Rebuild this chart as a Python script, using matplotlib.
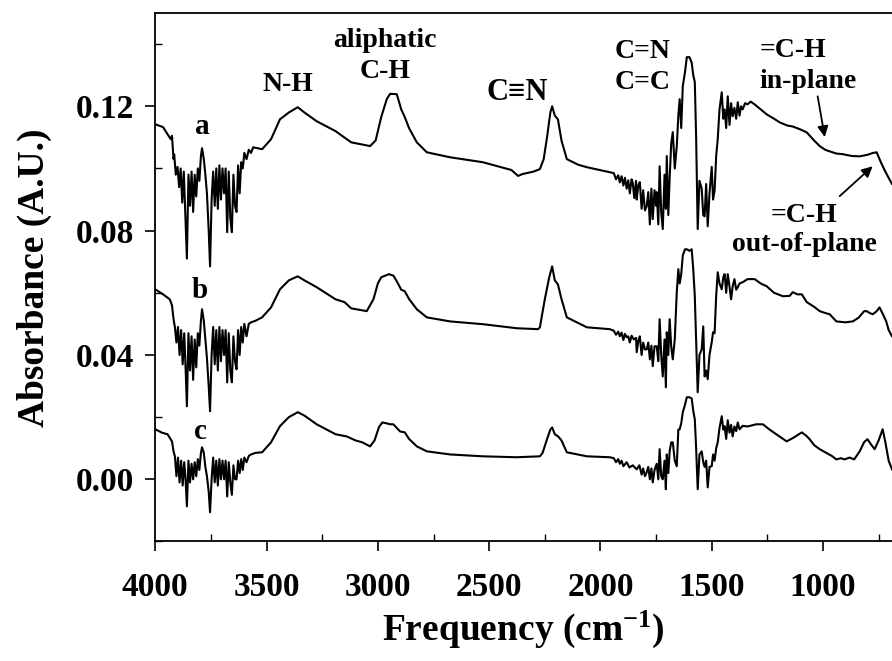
import matplotlib
matplotlib.use("Agg")
import matplotlib.pyplot as plt
from matplotlib.ticker import MultipleLocator

plt.rcParams['font.family'] = ['Liberation Serif', 'DejaVu Serif']
plt.rcParams['font.weight'] = 'bold'
plt.rcParams['mathtext.fontset'] = 'custom'
plt.rcParams['mathtext.rm'] = 'Liberation Serif:bold'
plt.rcParams['mathtext.bf'] = 'Liberation Serif:bold'
plt.rcParams['mathtext.default'] = 'rm'

# ---------------- data (wavenumber cm^-1, absorbance) ----------------
spectrum_a = [
    (4000, .1142), (3965, .1133), (3945, .1110), (3930, .1094), (3925, .1105), (3918, .1030),
    (3915, .1045), (3908, .0980), (3900, .1005), (3893, .0940), (3886, .1000), (3879, .0890),
    (3872, .0990), (3865, .0850), (3858, .0710), (3851, .0980), (3844, .0880), (3837, .0990),
    (3830, .0860), (3823, .0980), (3816, .0910), (3809, .1000), (3802, .0960), (3795, .1040),
    (3790, .1065), (3782, .1030), (3775, .0980), (3768, .0920), (3760, .0800), (3754, .0685),
    (3747, .0900), (3740, .0990), (3733, .0880), (3726, .1000), (3719, .0870), (3712, .1010),
    (3705, .0900), (3698, .1000), (3691, .0920), (3684, .1000), (3677, .0795), (3670, .0990),
    (3663, .0840), (3656, .0795), (3649, .0980), (3642, .0880), (3635, .0860), (3628, .1010),
    (3621, .0920), (3614, .1020), (3607, .1000), (3600, .1050), (3590, .1030), (3580, .1060),
    (3570, .1050), (3560, .1068), (3520, .1062), (3480, .1094), (3440, .1158), (3400, .1180),
    (3360, .1197), (3330, .1180), (3275, .1152), (3190, .1120), (3120, .1084), (3035, .1072),
    (3010, .1090), (2985, .1165), (2960, .1223), (2945, .1240), (2915, .1239), (2895, .1190),
    (2879, .1165), (2860, .1130), (2825, .1084), (2780, .1052), (2676, .1036), (2528, .1020),
    (2400, .0995), (2370, .0976), (2350, .0982), (2300, .0990), (2272, .0998), (2255, .1030),
    (2240, .1100), (2225, .1180), (2217, .1200), (2205, .1170), (2191, .1158), (2175, .1090),
    (2151, .1030), (2100, .1012), (2061, .1004), (1958, .0988),
    (1940, .0985), (1930, .0965), (1920, .0978), (1913, .0955), (1905, .0975), (1897, .0945),
    (1890, .0970), (1882, .0935), (1875, .0962), (1868, .0920), (1860, .0965), (1855, .0955),
    (1848, .0905), (1840, .0960), (1837, .0900), (1830, .0945), (1823, .0956), (1815, .0870),
    (1808, .0930), (1800, .0865), (1792, .0879), (1785, .0924), (1778, .0820), (1771, .0935),
    (1765, .0837), (1757, .0930), (1750, .0880), (1747, .0924), (1740, .0820), (1734, .1007),
    (1727, .0860), (1720, .0805), (1712, .0980), (1706, .0870), (1702, .1040), (1695, .0850),
    (1689, .0970), (1682, .1080), (1675, .1117), (1666, .1000), (1657, .1072), (1650, .1170),
    (1644, .1223), (1637, .1130), (1630, .1265), (1620, .1310), (1612, .1358), (1600, .1358),
    (1590, .1340), (1583, .1300), (1576, .1278), (1570, .1100), (1563, .0805), (1555, .0960),
    (1545, .0935), (1538, .0850), (1532, .0846), (1525, .0950), (1518, .0814), (1510, .0920),
    (1500, .1005), (1494, .0900), (1487, .0930), (1480, .1040), (1473, .1094), (1465, .1190),
    (1455, .1245), (1448, .1160), (1442, .1190), (1435, .1130), (1428, .1232), (1420, .1140),
    (1413, .1210), (1406, .1168), (1398, .1195), (1390, .1160), (1383, .1213), (1375, .1170),
    (1368, .1200), (1361, .1190), (1350, .1210), (1339, .1206), (1325, .1215), (1307, .1206),
    (1280, .1190), (1253, .1174), (1220, .1160), (1194, .1148), (1160, .1138), (1136, .1135),
    (1100, .1125), (1073, .1116), (1040, .1090), (1015, .1072), (990, .1060), (970, .1055),
    (940, .1048), (912, .1046), (870, .1040), (835, .1039), (800, .1044), (775, .1050),
    (759, .1052), (740, .1020), (720, .0990), (709, .0975), (690, .0950),
]

spectrum_b = [
    (4000, .0611), (3965, .0595), (3935, .0579), (3925, .0560), (3918, .0515),
    (3912, .0490), (3905, .0440), (3898, .0490), (3891, .0400), (3884, .0480), (3877, .0370),
    (3870, .0470), (3864, .0360), (3858, .0235), (3851, .0470), (3844, .0350), (3837, .0460),
    (3830, .0320), (3823, .0450), (3816, .0360), (3809, .0470), (3802, .0430), (3795, .0510),
    (3790, .0547), (3782, .0510), (3775, .0450), (3768, .0390), (3760, .0300), (3754, .0219),
    (3747, .0400), (3740, .0490), (3733, .0370), (3726, .0480), (3719, .0350), (3712, .0490),
    (3705, .0380), (3698, .0480), (3691, .0400), (3684, .0480), (3677, .0312), (3670, .0470),
    (3663, .0350), (3656, .0312), (3649, .0460), (3642, .0380), (3635, .0354), (3628, .0480),
    (3621, .0400), (3614, .0490), (3607, .0440), (3600, .0500), (3590, .0460), (3580, .0500),
    (3570, .0505), (3550, .0510), (3520, .0521), (3480, .0553), (3440, .0611), (3400, .0640),
    (3360, .0653), (3330, .0640), (3275, .0618), (3190, .0579), (3150, .0570), (3120, .0550),
    (3050, .0541), (3020, .0579), (3000, .0630), (2985, .0650), (2950, .0660), (2930, .0655),
    (2915, .0637), (2895, .0610), (2879, .0605), (2860, .0580), (2825, .0547), (2780, .0521),
    (2676, .0508), (2528, .0499), (2376, .0486), (2280, .0483), (2272, .0489), (2250, .0579),
    (2230, .0650), (2217, .0685), (2205, .0640), (2191, .0627), (2175, .0580), (2151, .0521),
    (2061, .0489), (1958, .0483),
    (1940, .0478), (1930, .0465), (1920, .0475), (1913, .0460), (1905, .0472), (1897, .0448),
    (1890, .0468), (1882, .0457), (1875, .0460), (1868, .0440), (1860, .0462), (1850, .0450),
    (1840, .0455), (1837, .0409), (1830, .0445), (1823, .0460), (1815, .0400), (1808, .0440),
    (1800, .0418), (1792, .0418), (1785, .0440), (1778, .0386), (1771, .0430), (1765, .0364),
    (1757, .0428), (1747, .0428), (1740, .0380), (1734, .0515), (1727, .0400), (1720, .0331),
    (1712, .0450), (1706, .0296), (1702, .0473), (1695, .0400), (1689, .0515), (1682, .0428),
    (1675, .0386), (1666, .0450), (1657, .0602), (1650, .0676), (1644, .0630), (1637, .0660),
    (1630, .0720), (1620, .0740), (1612, .0740), (1600, .0735), (1590, .0740), (1583, .0676),
    (1576, .0589), (1570, .0450), (1563, .0280), (1555, .0400), (1545, .0418), (1538, .0492),
    (1532, .0331), (1525, .0350), (1518, .0322), (1510, .0400), (1500, .0441), (1494, .0473),
    (1487, .0470), (1480, .0589), (1473, .0666), (1465, .0630), (1455, .0611), (1448, .0650),
    (1442, .0660), (1435, .0600), (1428, .0660), (1420, .0620), (1413, .0579), (1406, .0620),
    (1398, .0644), (1390, .0610), (1383, .0618), (1375, .0630), (1361, .0634), (1339, .0644),
    (1307, .0644), (1280, .0630), (1253, .0621), (1220, .0600), (1180, .0589), (1150, .0590),
    (1136, .0602), (1115, .0595), (1095, .0595), (1073, .0570), (1040, .0555), (1015, .0541),
    (990, .0535), (970, .0531), (940, .0508), (900, .0505), (866, .0508), (840, .0520),
    (815, .0541), (804, .0541), (790, .0535), (777, .0531), (760, .0540), (746, .0553),
    (730, .0530), (716, .0508), (705, .0480), (690, .0460),
]

spectrum_c = [
    (4000, .0161), (3970, .0150), (3945, .0145), (3925, .0122), (3918, .0090),
    (3912, .0074), (3905, .0010), (3898, .0070), (3891, -.0010), (3884, .0060), (3877, -.0020),
    (3870, .0055), (3864, .0000), (3858, -.0087), (3851, .0060), (3844, -.0010), (3837, .0050),
    (3830, .0000), (3823, .0055), (3816, .0010), (3809, .0065), (3802, .0030), (3795, .0085),
    (3790, .0103), (3782, .0085), (3775, .0040), (3768, .0010), (3760, -.0040), (3754, -.0106),
    (3747, .0000), (3740, .0070), (3733, -.0010), (3726, .0060), (3719, -.0020), (3712, .0065),
    (3705, .0000), (3698, .0060), (3691, .0000), (3684, .0060), (3677, -.0055), (3670, .0055),
    (3663, -.0010), (3656, -.0050), (3649, .0045), (3642, .0000), (3635, .0000), (3628, .0060),
    (3621, .0020), (3614, .0065), (3607, .0030), (3600, .0070), (3590, .0055), (3580, .0075),
    (3570, .0080), (3550, .0085), (3520, .0087), (3480, .0119), (3440, .0171), (3400, .0200),
    (3360, .0216), (3330, .0205), (3275, .0177), (3190, .0145), (3140, .0138), (3100, .0125),
    (3070, .0119), (3035, .0106), (3015, .0125), (2995, .0168), (2980, .0183), (2960, .0180),
    (2945, .0177), (2930, .0177), (2915, .0165), (2900, .0154), (2879, .0151), (2860, .0130),
    (2825, .0106), (2780, .0090), (2676, .0080), (2528, .0074), (2376, .0071), (2272, .0074),
    (2260, .0085), (2240, .0129), (2225, .0160), (2217, .0167), (2205, .0145), (2190, .0138),
    (2175, .0125), (2151, .0087), (2061, .0074), (1958, .0071),
    (1940, .0068), (1930, .0055), (1920, .0065), (1913, .0050), (1905, .0060), (1897, .0042),
    (1882, .0055), (1870, .0038), (1855, .0045), (1837, .0032), (1825, .0045), (1815, .0015),
    (1808, .0035), (1800, .0010), (1792, .0023), (1785, .0040), (1778, .0000), (1771, .0035),
    (1765, -.0010), (1757, .0030), (1747, .0050), (1740, .0000), (1734, .0097), (1727, .0010),
    (1720, .0000), (1712, .0060), (1706, -.0032), (1702, .0080), (1695, .0020), (1689, .0090),
    (1682, .0119), (1675, .0119), (1666, .0060), (1657, .0042), (1650, .0160), (1644, .0161),
    (1637, .0180), (1630, .0216), (1620, .0240), (1612, .0264), (1600, .0264), (1590, .0260),
    (1583, .0220), (1576, .0193), (1570, .0100), (1563, -.0032), (1555, .0080), (1545, .0090),
    (1538, .0055), (1532, .0040), (1525, .0060), (1518, -.0026), (1510, .0040), (1500, .0042),
    (1494, .0080), (1487, .0060), (1480, .0100), (1473, .0119), (1465, .0165), (1455, .0203),
    (1448, .0160), (1442, .0171), (1435, .0130), (1428, .0190), (1420, .0150), (1413, .0175),
    (1406, .0138), (1398, .0170), (1390, .0155), (1383, .0183), (1375, .0161), (1361, .0172),
    (1339, .0170), (1300, .0177), (1270, .0177), (1240, .0160), (1210, .0145), (1163, .0122),
    (1130, .0135), (1095, .0151), (1075, .0140), (1060, .0129), (1040, .0110), (1015, .0097),
    (990, .0087), (960, .0075), (940, .0064), (920, .0068), (904, .0064), (880, .0070),
    (860, .0064), (835, .0090), (815, .0120), (800, .0129), (782, .0110), (768, .0097),
    (750, .0125), (732, .0161), (720, .0120), (705, .0060), (690, .0032),
]

trace_labels = ['a', 'b', 'c']
trace_label_pos = [(3790, .1136), (3799, .0608), (3799, .0154)]

band_labels = ['N-H', 'aliphatic', 'C-H', 'C\u2261N', 'C=N', 'C=C',
               '=C-H', 'in-plane', '=C-H', 'out-of-plane']
band_label_pos = [(3404, .1271), (2968, .1413), (2968, .1313), (2375, .1245),
                  (1809, .1377), (1809, .1278), (1135, .1381), (1068, .1281),
                  (1087, .0850), (1082, .0756)]
band_label_size = [20, 20, 20, 22, 20, 20, 20, 20, 20, 20]

arrows = [((1024, .1232), (992, .1101)), ((925, .0911), (777, .1007))]

x_ticks = [4000, 3500, 3000, 2500, 2000, 1500, 1000]
y_ticks = [0.00, 0.04, 0.08, 0.12]

# ---------------- figure ----------------
fig = plt.figure(figsize=(8.92, 6.61), dpi=100)
ax = fig.add_axes([0.1741, 0.1808, 0.8259, 0.7995])

for spec in (spectrum_a, spectrum_b, spectrum_c):
    xs = [p[0] for p in spec]
    ys = [p[1] for p in spec]
    ax.plot(xs, ys, color='black', lw=1.5)

ax.set_xlim(4000, 690)
ax.set_ylim(-0.02, 0.15)

ax.set_xticks(x_ticks)
ax.set_xticklabels([str(t) for t in x_ticks])
ax.xaxis.set_minor_locator(MultipleLocator(250))
ax.set_yticks(y_ticks)
ax.set_yticklabels([f'{t:.2f}' for t in y_ticks])
ax.yaxis.set_minor_locator(MultipleLocator(0.02))

ax.tick_params(axis='both', which='major', direction='out', length=7, width=1.2,
               labelsize=24)
ax.tick_params(axis='x', which='major', pad=15)
ax.tick_params(axis='y', which='major', pad=8)
ax.tick_params(axis='both', which='minor', direction='in', length=5, width=1.0)
for lab in ax.get_xticklabels() + ax.get_yticklabels():
    lab.set_fontweight('bold')

ax.spines['right'].set_visible(False)
for s in ('left', 'bottom', 'top'):
    ax.spines[s].set_linewidth(1.3)

ax.set_xlabel('Frequency (cm$^{-1}$)', fontsize=27, fontweight='bold')
ax.set_ylabel('Absorbance (A.U.)', fontsize=27, fontweight='bold')
ax.xaxis.set_label_coords(0.5, -0.128)
ax.yaxis.set_label_coords(-0.140, 0.5)

for lab, (x, y) in zip(trace_labels, trace_label_pos):
    ax.text(x, y, lab, fontsize=21, fontweight='bold', ha='center', va='center')

for lab, (x, y), fs in zip(band_labels, band_label_pos, band_label_size):
    ax.text(x, y, lab, fontsize=fs, fontweight='bold', ha='center', va='center')

for (x0, y0), (x1, y1) in arrows:
    ax.annotate('', xy=(x1, y1), xytext=(x0, y0),
                arrowprops=dict(arrowstyle='-|>', lw=1.3, color='black',
                                mutation_scale=16, shrinkA=0, shrinkB=0))

fig.savefig('out.png', dpi=100)
